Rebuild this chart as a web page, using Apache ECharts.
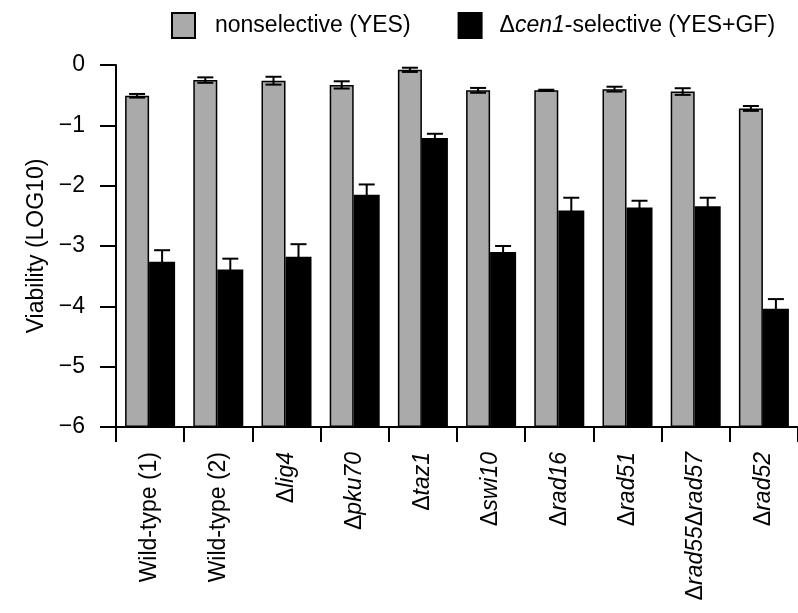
<!DOCTYPE html>
<html>
<head>
<meta charset="utf-8">
<script src="https://cdn.jsdelivr.net/npm/echarts@6/dist/echarts.min.js"></script>
<style>
  html, body { margin: 0; padding: 0; background: #fff; }
  #chart { width: 798px; height: 613px; }
</style>
</head>
<body>
<div id="chart"></div>
<script>
// Strains (Δ marks a deletion mutant; gene names set in italics)
const strains = ['Wild-type (1)', 'Wild-type (2)', 'Δlig4', 'Δpku70', 'Δtaz1',
                 'Δswi10', 'Δrad16', 'Δrad51', 'Δrad55Δrad57', 'Δrad52'];

// Viability, log10 — nonselective medium (YES)
const nonselective = [-0.51, -0.25, -0.26, -0.33, -0.08, -0.42, -0.42, -0.40, -0.44, -0.72];
const nonselectiveErr = [0.03, 0.045, 0.065, 0.06, 0.035, 0.04, 0.01, 0.04, 0.055, 0.04];

// Viability, log10 — Δcen1-selective medium (YES+GF)
const selective = [-3.26, -3.39, -3.18, -2.15, -1.21, -3.10, -2.41, -2.36, -2.34, -4.04];
const selectiveErr = [0.19, 0.18, 0.21, 0.17, 0.07, 0.10, 0.21, 0.11, 0.14, 0.16];

const yTicks = [0, -1, -2, -3, -4, -5, -6];

const FONT = '"Liberation Sans", Arial, Helvetica, sans-serif';
const FS = 23;
const GRAY_W = 24;
const BLACK_W = 26;

const seriesNames = ['nonselective (YES)', 'Δcen1-selective (YES+GF)'];

function strainLabel(name) {
  if (name.indexOf('Δ') < 0) return '{n|' + name + '}';
  return name.split('Δ').filter(s => s.length).map(s => '{d|Δ}{g|' + s + '}').join('');
}

const errData = [];
nonselective.forEach((v, i) => errData.push([i, v, nonselectiveErr[i], 0]));
selective.forEach((v, i) => errData.push([i, v, selectiveErr[i], 1]));

const chart = echarts.init(document.getElementById('chart'), null, { renderer: 'canvas' });

chart.setOption({
  animation: false,
  backgroundColor: '#fff',
  textStyle: { fontFamily: FONT, color: '#000' },
  grid: { left: 116, top: 65, width: 687, bottom: 186, containLabel: false },
  legend: {
    data: seriesNames,
    left: 166,
    top: 7,
    itemWidth: 23,
    itemHeight: 25,
    itemGap: 47,
    icon: 'rect',
    selectedMode: false,
    formatter: function (name) {
      if (name === seriesNames[0]) return '{a|' + name + '}';
      return '{d|Δ}{i|cen1}{n|-selective (YES+GF)}';
    },
    textStyle: {
      fontFamily: FONT,
      fontSize: FS,
      color: '#000',
      rich: {
        a: { fontFamily: FONT, fontSize: FS, color: '#000', padding: [0, 0, 0, 15] },
        d: { fontFamily: FONT, fontSize: FS, color: '#000', padding: [0, 0, 0, 13] },
        i: { fontFamily: FONT, fontSize: FS, color: '#000', fontStyle: 'italic' },
        n: { fontFamily: FONT, fontSize: FS, color: '#000' }
      }
    }
  },
  xAxis: {
    type: 'category',
    data: strains,
    boundaryGap: true,
    axisLine: { onZero: false, lineStyle: { color: '#000', width: 2 } },
    axisTick: { show: true, length: 15, lineStyle: { color: '#000', width: 2 } },
    axisLabel: {
      interval: 0,
      rotate: 90,
      margin: 25,
      fontFamily: FONT,
      fontSize: FS,
      color: '#000',
      formatter: strainLabel,
      rich: {
        n: { fontFamily: FONT, fontSize: FS, color: '#000' },
        d: { fontFamily: FONT, fontSize: FS, color: '#000' },
        g: { fontFamily: FONT, fontSize: FS, color: '#000', fontStyle: 'italic' }
      }
    },
    splitLine: { show: false }
  },
  yAxis: {
    type: 'value',
    min: -6,
    max: 0,
    interval: 1,
    startValue: -6,
    name: 'Viability (LOG10)',
    nameLocation: 'middle',
    nameGap: 67,
    nameRotate: 90,
    nameTextStyle: { fontFamily: FONT, fontSize: FS, color: '#000' },
    axisLine: { show: true, lineStyle: { color: '#000', width: 2 } },
    axisTick: { show: true, length: 16, lineStyle: { color: '#000', width: 2 } },
    axisLabel: {
      margin: 31,
      fontFamily: FONT,
      fontSize: FS,
      color: '#000',
      formatter: v => (yTicks.indexOf(v) >= 0 ? String(v).replace('-', '−') : '')
    },
    splitLine: { show: false }
  },
  series: [
    {
      name: seriesNames[0],
      type: 'bar',
      data: nonselective,
      barWidth: GRAY_W,
      barGap: '0%',
      itemStyle: { color: '#aaaaaa', borderColor: '#000', borderWidth: 1.5 }
    },
    {
      name: seriesNames[1],
      type: 'bar',
      data: selective,
      barWidth: BLACK_W,
      barGap: '0%',
      itemStyle: { color: '#000', borderColor: '#000', borderWidth: 1.5 }
    },
    {
      name: 'error',
      type: 'custom',
      data: errData,
      z: 10,
      silent: true,
      renderItem: function (params, api) {
        const x = api.value(0), y = api.value(1), e = api.value(2), s = api.value(3);
        const top = api.coord([x, y + e]);
        const bot = api.coord([x, y - e]);
        // pair of bars is centred on the category: gray on the left, black on the right
        const pairLeft = top[0] - (GRAY_W + BLACK_W) / 2;
        const cx = s === 0 ? pairLeft + GRAY_W / 2 : pairLeft + GRAY_W + BLACK_W / 2;
        const half = 8;
        const style = { stroke: '#000', lineWidth: 2, fill: null };
        return {
          type: 'group',
          children: [
            { type: 'line', shape: { x1: cx, y1: top[1], x2: cx, y2: bot[1] }, style: style },
            { type: 'line', shape: { x1: cx - half, y1: top[1], x2: cx + half, y2: top[1] }, style: style },
            { type: 'line', shape: { x1: cx - half, y1: bot[1], x2: cx + half, y2: bot[1] }, style: style }
          ]
        };
      }
    }
  ]
});
</script>
</body>
</html>
